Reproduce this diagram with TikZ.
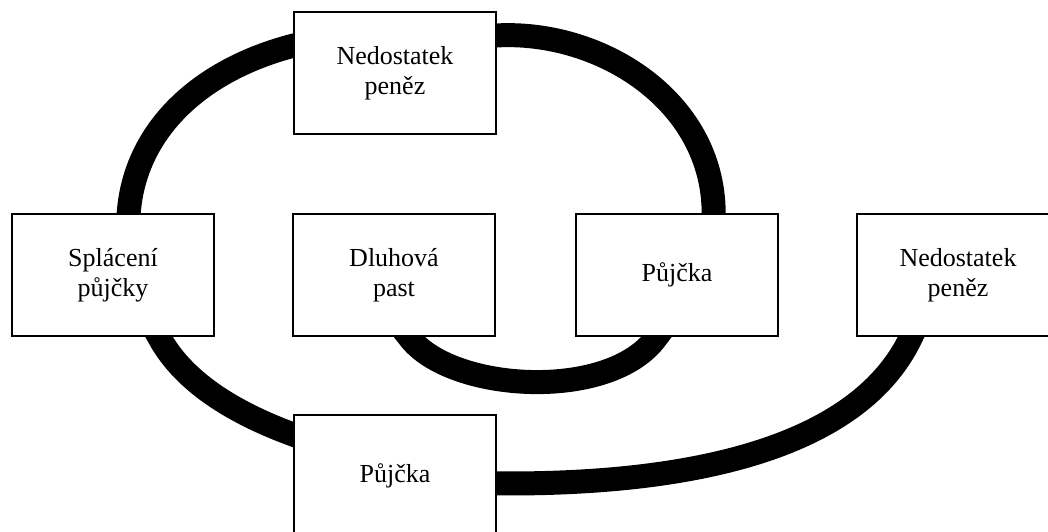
\documentclass[tikz,border=0pt]{standalone}
\usepackage{fontspec}
\setmainfont{Liberation Serif}
\usetikzlibrary{backgrounds,calc}
\begin{document}
\begin{tikzpicture}[x=1pt,y=-1pt,
  box/.style={draw, line width=2pt, fill=white, minimum width=202pt, minimum height=122pt,
    inner sep=0pt, align=center, font=\fontsize{26}{30}\selectfont},
  band/.style={line width=24pt, draw=black, line cap=rect}]
\useasboundingbox (0,0) rectangle (1048,531);
\node[box] (lack1) at (395,73) {Nedostatek\\peněz};
\node[box] (repay) at (113,275) {Splácení\\půjčky};
\node[box] (trap) at (394,275) {Dluhová\\past};
\node[box] (loan1) at (677,275) {Půjčka};
\node[box] (lack2) at (958,275) {Nedostatek\\peněz};
\node[box] (loan2) at (395,476) {Půjčka};
\begin{scope}[on background layer]
\draw[band] ($(lack1.north west)!0.28!(lack1.south west)$)
  .. controls (200,70) and (135,130) .. ($(repay.north west)!0.577!(repay.north east)$);
\draw[band] ($(lack1.north east)!0.197!(lack1.south east)$)
  .. controls (600,30) and (713,100) .. ($(loan1.north west)!0.68!(loan1.north east)$);
\draw[band] ($(repay.south west)!0.726!(repay.south east)$)
  .. controls (185,385) and (240,415) .. ($(loan2.north west)!0.165!(loan2.south west)$);
\draw[band] ($(loan2.north east)!0.56!(loan2.south east)$)
  .. controls (700,485) and (860,445) .. ($(lack2.south west)!0.27!(lack2.south east)$);
\draw[band] ($(trap.south west)!0.574!(trap.south east)$)
  .. controls (450,392) and (610,402) .. ($(loan1.south west)!0.4!(loan1.south east)$);
\end{scope}
\end{tikzpicture}
\end{document}
